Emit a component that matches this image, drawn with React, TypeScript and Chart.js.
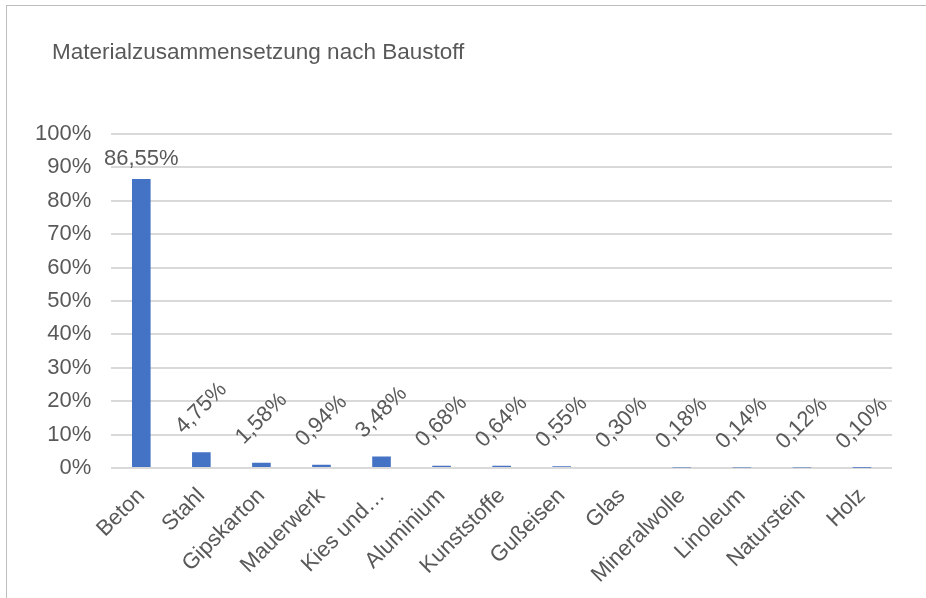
import React, { useEffect, useRef } from "react";
import { Chart, registerables } from "chart.js";

Chart.register(...registerables);

const TITLE = "Materialzusammensetzung nach Baustoff";
const categories = [
  "Beton",
  "Stahl",
  "Gipskarton",
  "Mauerwerk",
  "Kies und…",
  "Aluminium",
  "Kunststoffe",
  "Gußeisen",
  "Glas",
  "Mineralwolle",
  "Linoleum",
  "Naturstein",
  "Holz",
];
const values = [86.55, 4.75, 1.58, 0.94, 3.48, 0.68, 0.64, 0.55, 0.3, 0.18, 0.14, 0.12, 0.1];
const yMin = 0;
const yMax = 100;
const yStep = 10;

const TEXT = "#595959";
const FONT = "'Liberation Sans', Arial, sans-serif";

const fmt = (v: number) => v.toFixed(2).replace(".", ",") + "%";

const titlePlugin = {
  id: "leftTitle",
  afterDraw(chart: any) {
    const ctx = chart.ctx;
    ctx.save();
    ctx.fillStyle = TEXT;
    ctx.font = `22.5px ${FONT}`;
    ctx.textAlign = "left";
    ctx.textBaseline = "middle";
    ctx.fillText(TITLE, 52, 53);
    ctx.restore();
  },
};

const labelPlugin = {
  id: "valueLabels",
  afterDatasetsDraw(chart: any) {
    const ctx = chart.ctx;
    const meta = chart.getDatasetMeta(0);
    const data = chart.data.datasets[0].data as number[];
    ctx.save();
    ctx.fillStyle = TEXT;
    ctx.font = `22px ${FONT}`;
    meta.data.forEach((el: any, i: number) => {
      const v = data[i];
      const txt = fmt(v);
      if (v > 50) {
        ctx.textAlign = "center";
        ctx.textBaseline = "alphabetic";
        ctx.fillText(txt, el.x, el.y - 14);
      } else {
        ctx.save();
        ctx.translate(el.x, el.y - 44);
        ctx.rotate(-Math.PI / 4);
        ctx.textAlign = "center";
        ctx.textBaseline = "middle";
        ctx.fillText(txt, 0, 0);
        ctx.restore();
      }
    });
    ctx.restore();
  },
};

export default function App() {
  const ref = useRef<HTMLCanvasElement | null>(null);

  useEffect(() => {
    if (!ref.current) return;
    const chart = new Chart(ref.current, {
      type: "bar",
      data: {
        labels: categories,
        datasets: [
          {
            data: values,
            backgroundColor: "#4472C4",
            borderWidth: 0,
            barPercentage: 0.31,
            categoryPercentage: 1,
          },
        ],
      },
      options: {
        responsive: false,
        animation: false,
        devicePixelRatio: 1,
        layout: { padding: { left: 15, right: 34, top: 134, bottom: 0 } },
        plugins: {
          legend: { display: false },
          title: { display: false },
          tooltip: { enabled: false },
        },
        scales: {
          x: {
            grid: { display: false, drawTicks: false },
            border: { display: false },
            afterFit: (scale: any) => {
              scale.height = 130;
            },
            ticks: {
              color: TEXT,
              font: { family: FONT, size: 22 },
              minRotation: 45,
              maxRotation: 45,
              autoSkip: false,
              padding: 15,
            },
          },
          y: {
            min: yMin,
            max: yMax,
            grid: { color: "#d9d9d9", lineWidth: 2, drawTicks: false },
            border: { display: false },
            ticks: {
              stepSize: yStep,
              color: TEXT,
              font: { family: FONT, size: 22 },
              padding: 20,
              callback: (v: any) => v + "%",
            },
          },
        },
      },
      plugins: [titlePlugin, labelPlugin],
    });
    return () => chart.destroy();
  }, []);

  return (
    <div style={{ position: "fixed", left: 0, top: 0, width: 926, height: 598, background: "#fff" }}>
      <div
        style={{
          position: "absolute",
          left: 6,
          top: 5,
          right: -2,
          bottom: -2,
          borderLeft: "1px solid #bdbdbd",
          borderTop: "1px solid #bdbdbd",
        }}
      />
      <canvas ref={ref} width={926} height={598} style={{ position: "absolute", left: 0, top: 0 }} />
    </div>
  );
}
